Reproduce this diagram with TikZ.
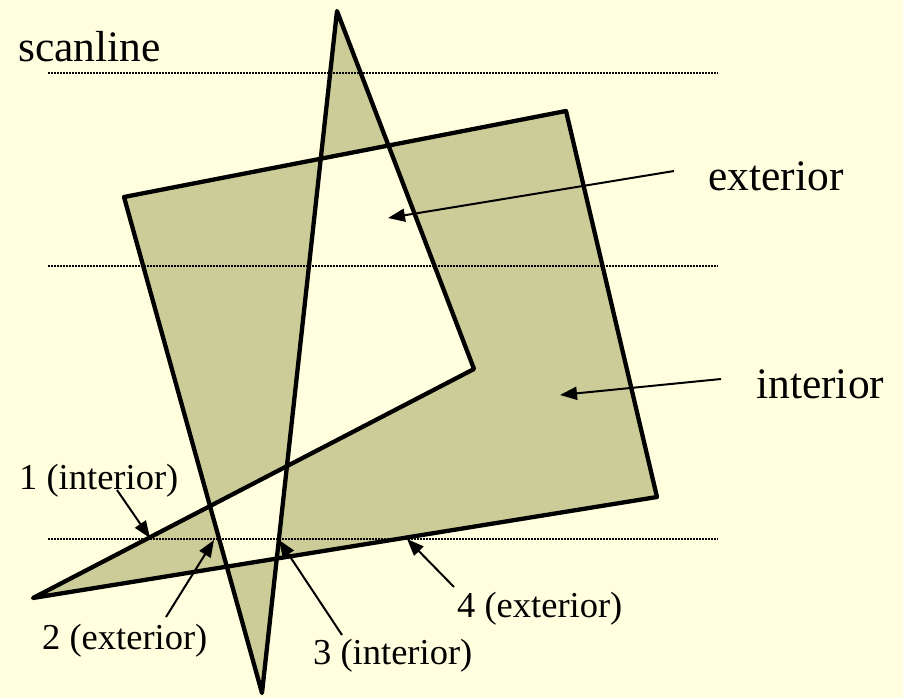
\documentclass[tikz,border=0pt]{standalone}
\usepackage{fontspec}
\setmainfont{Liberation Serif}
\definecolor{mPaper}{HTML}{FFFFE0}
\definecolor{mOlive}{HTML}{CCCC99}
\usetikzlibrary{arrows.meta}
\newcommand{\bigfont}{\fontsize{43.5}{50}\selectfont}
\newcommand{\smallfont}{\fontsize{36.5}{42}\selectfont}
\tikzset{
 edge/.style={draw=black, line width=4.3pt, line join=round, fill=mOlive, even odd rule},
 scan/.style={line width=1.2pt, dash pattern=on 1.5pt off 1.5pt},
 pointer/.style={line width=2pt, -{Triangle[length=17pt,width=13pt]}},
 bigtag/.style={anchor=base west, inner sep=0pt, font=\bigfont},
 smalltag/.style={anchor=base west, inner sep=0pt, font=\smallfont}
}

\begin{document}
\begin{tikzpicture}[x=1pt, y=-1pt]
\fill[mPaper] (0,0) rectangle (903,698);
\useasboundingbox (0,0) rectangle (903,698);
% polygon vertices
\coordinate (v1) at (124,197);
\coordinate (v2) at (566,111);
\coordinate (v3) at (657,497);
\coordinate (v4) at (33,598);
\coordinate (v5) at (474,369);
\coordinate (v6) at (337,11);
\coordinate (v7) at (262,693);
\path[edge] (v1) -- (v2) -- (v3) -- (v4) -- (v5) -- (v6) -- (v7) -- cycle;
% scanlines
\foreach \yy/\nm in {73/a, 266/b, 539/c} {
 \coordinate (sl\nm) at (48,\yy);
 \coordinate (sr\nm) at (718,\yy);
 \draw[scan] (sl\nm) -- (sr\nm);
}
% labels
\node[bigtag] (scanlbl) at (18,62) {scanline};
\node[bigtag] (extlbl) at (708,190) {exterior};
\node[bigtag] (intlbl) at (756,398) {interior};
\node[smalltag] (p1) at (19,489) {1 (interior)};
\node[smalltag] (p2) at (42,649) {2 (exterior)};
\node[smalltag] (p3) at (313,664) {3 (interior)};
\node[smalltag] (p4) at (457,617) {4 (exterior)};
% arrows
\coordinate (e0) at (674,171); \coordinate (e1) at (388,218);
\coordinate (i0) at (721,379); \coordinate (i1) at (560,395);
\coordinate (a0) at (117,490); \coordinate (a1) at (150,538);
\coordinate (b0) at (166,617); \coordinate (b1) at (214,540);
\coordinate (c0) at (342,635); \coordinate (c1) at (279,540);
\coordinate (d0) at (454,587); \coordinate (d1) at (407,539);
\draw[pointer] (e0) -- (e1);
\draw[pointer] (i0) -- (i1);
\draw[pointer] (a0) -- (a1);
\draw[pointer] (b0) -- (b1);
\draw[pointer] (c0) -- (c1);
\draw[pointer] (d0) -- (d1);
\end{tikzpicture}
\end{document}
